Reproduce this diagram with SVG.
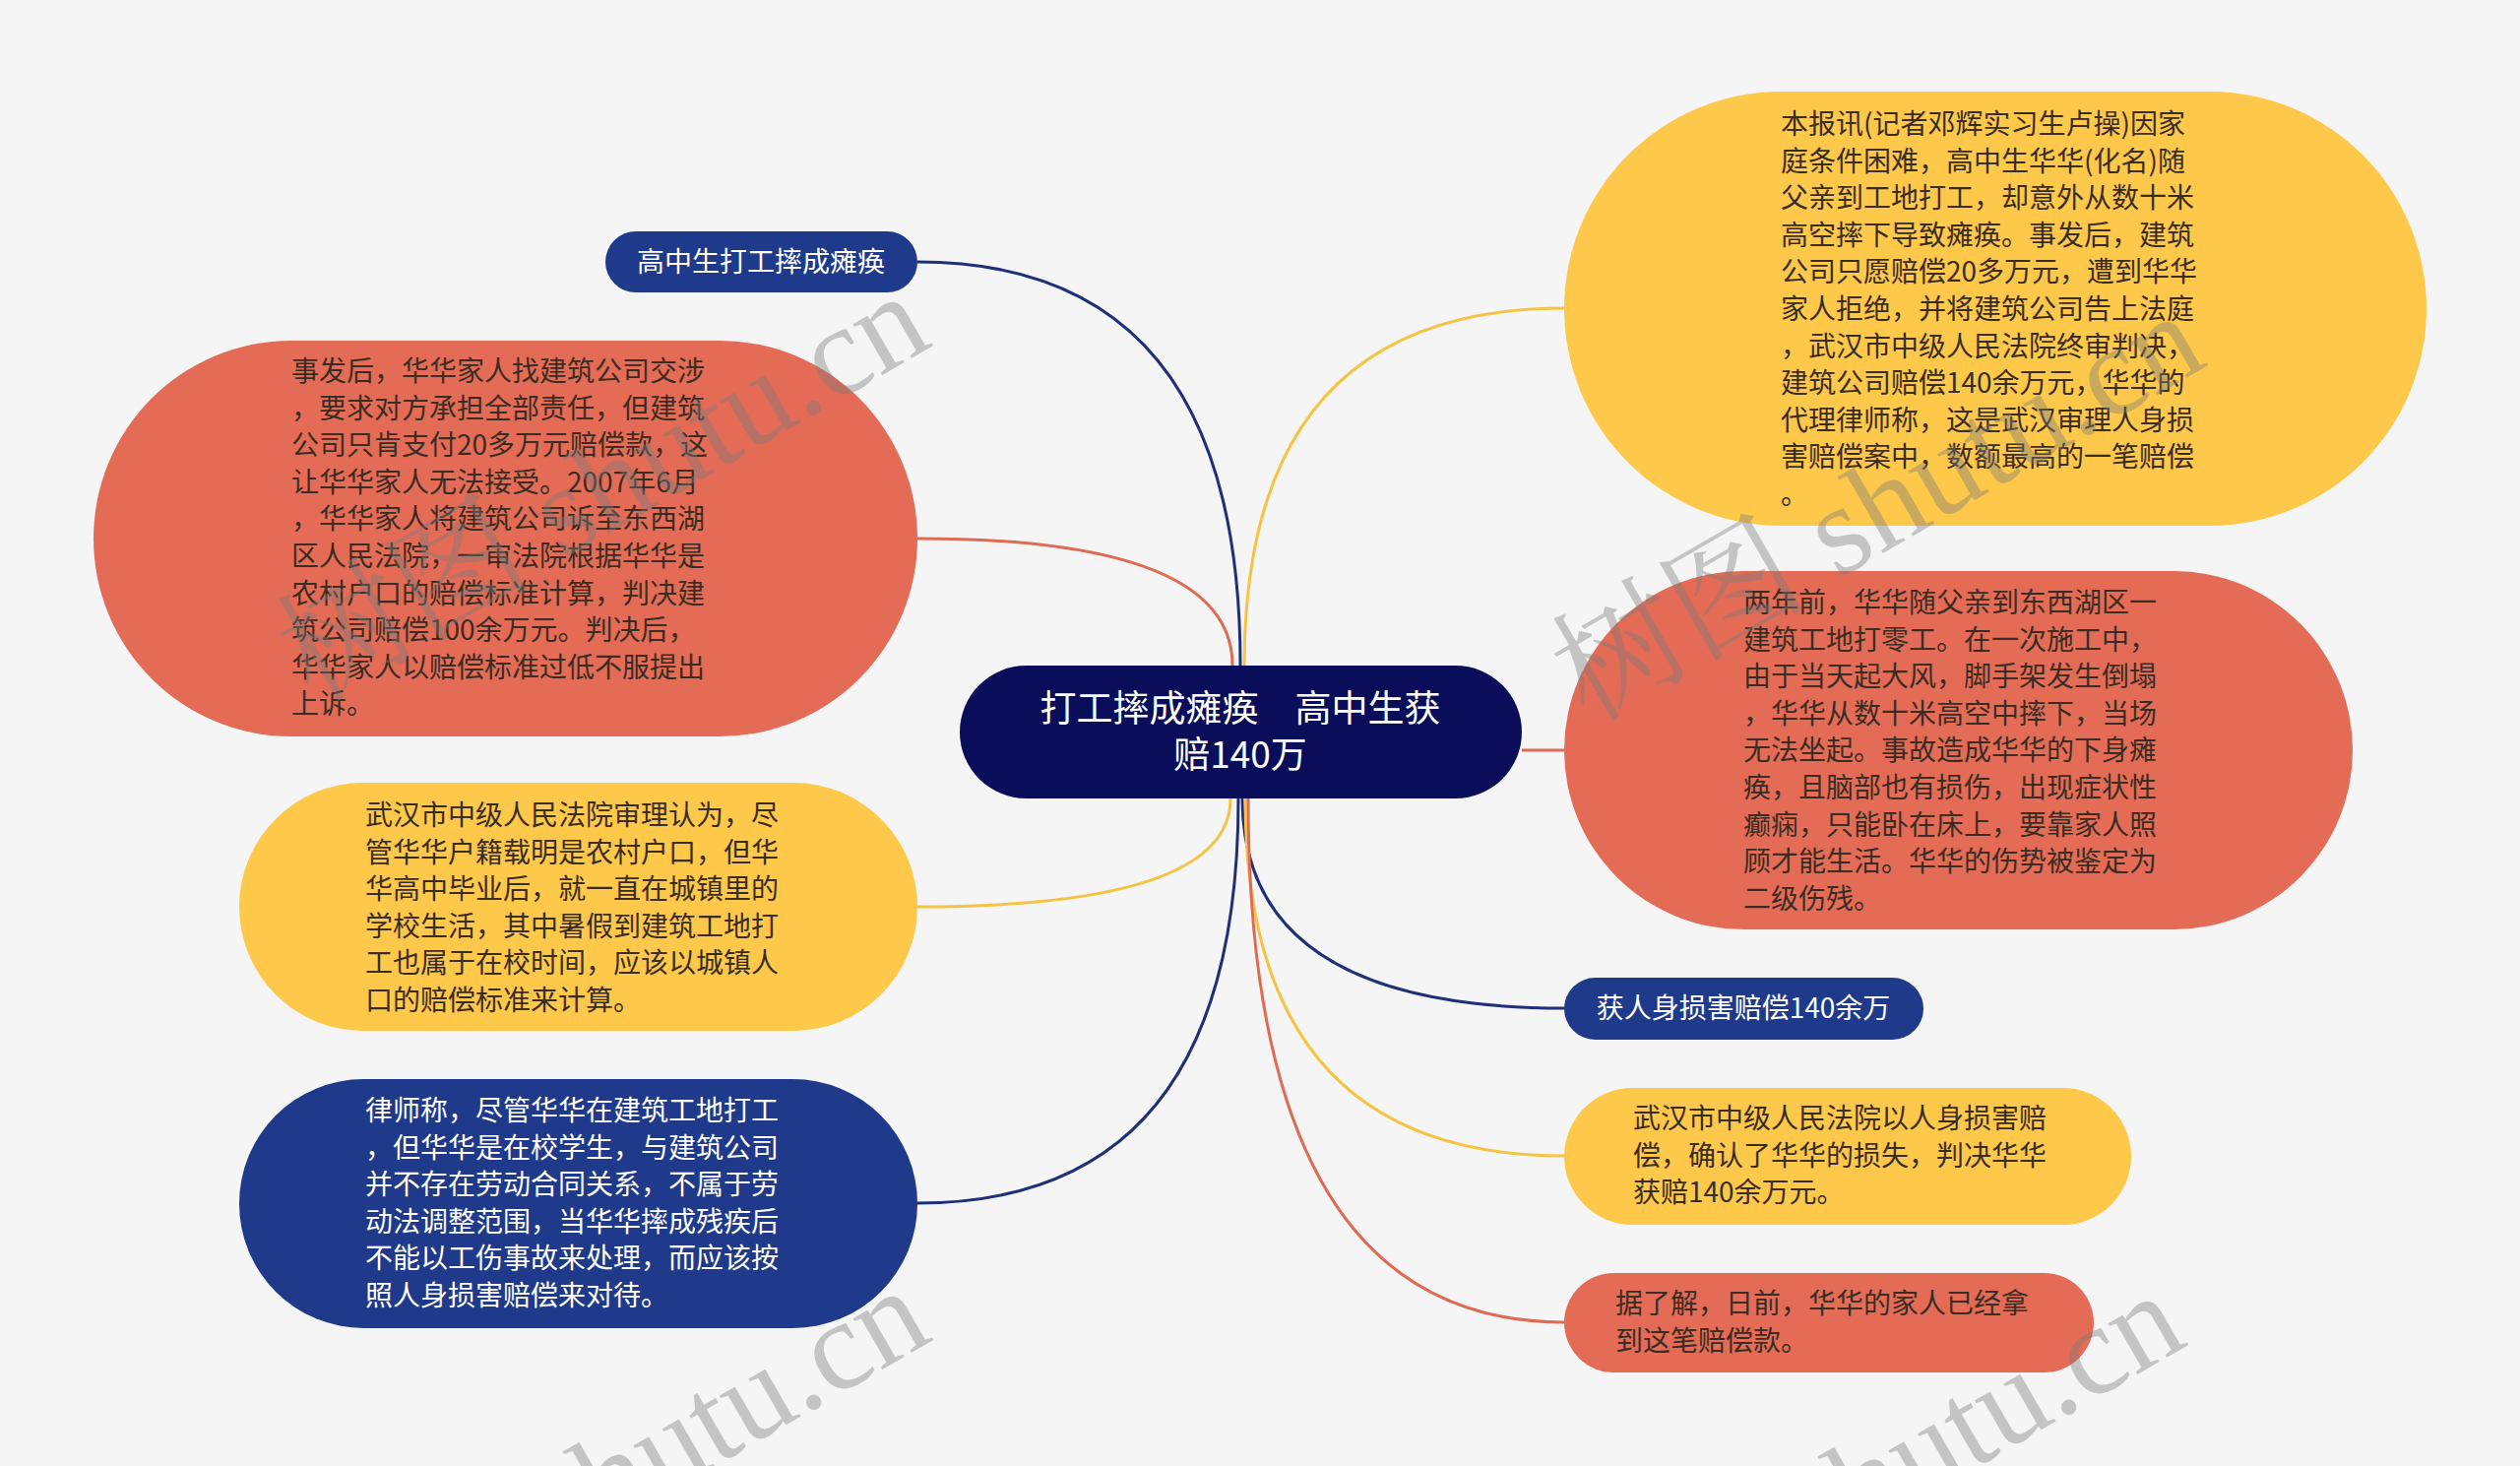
<svg xmlns="http://www.w3.org/2000/svg" width="2560" height="1489" viewBox="0 0 2560 1489">
<style>
.bg{fill:#f5f5f5}
.c-center{fill:#0a0e5a}
.c-blue{fill:#1f3a8a}
.c-yellow{fill:#fec84a}
.c-red{fill:#e46c57}
.t{font-family:"Noto Sans CJK SC","Noto Sans",sans-serif;font-size:28px}
.tw{fill:#ffffff}
.td{fill:#3a2c22}
.tc{font-family:"Noto Sans CJK SC","Noto Sans",sans-serif;font-size:37px;fill:#ffffff}
.ln{fill:none;stroke-width:3}
.l-navy{stroke:#1f2f78}
.l-yellow{stroke:#f5c444}
.l-red{stroke:#de6b55}
.wm{font-family:"Liberation Serif","Noto Serif CJK SC",serif;font-size:130px;fill:#7a7a7a;fill-opacity:0.4}
</style>
<rect class="bg" x="0" y="0" width="2560" height="1489"/>
<g id="connectors">
<path class="ln l-navy" d="M1260 676 Q1260 266 932 266"/>
<path class="ln l-red" d="M1252 676 Q1252 547 932 547"/>
<path class="ln l-yellow" d="M1264 676 Q1264 313 1589 313"/>
<path class="ln l-red" d="M1546 762 L1589 762"/>
<path class="ln l-yellow" d="M1250 811 Q1250 921 932 921"/>
<path class="ln l-navy" d="M1258 811 Q1258 1222 932 1222"/>
<path class="ln l-navy" d="M1262 811 Q1262 1024 1589 1024"/>
<path class="ln l-yellow" d="M1265 811 Q1265 1174 1589 1174"/>
<path class="ln l-red" d="M1268 811 Q1268 1343 1589 1343"/>
</g>
<g id="center">
<rect class="c-center" x="975" y="676" width="571" height="135" rx="67.5"/>
<text class="tc" text-anchor="middle"><tspan x="1260" y="733">打工摔成瘫痪　高中生获</tspan><tspan x="1260" y="780">赔140万</tspan></text>
</g>
<g id="n1">
<rect class="c-blue" x="615" y="235" width="317" height="62" rx="31"/>
<text class="t tw" x="773" y="276" text-anchor="middle">高中生打工摔成瘫痪</text>
</g>
<g id="n2">
<rect class="c-red" x="95" y="346" width="837" height="402" rx="201"/>
<text class="t td">
<tspan x="296" y="387">事发后，华华家人找建筑公司交涉</tspan>
<tspan x="296" y="424.6">，要求对方承担全部责任，但建筑</tspan>
<tspan x="296" y="462.2">公司只肯支付20多万元赔偿款，这</tspan>
<tspan x="296" y="499.8">让华华家人无法接受。2007年6月</tspan>
<tspan x="296" y="537.4">，华华家人将建筑公司诉至东西湖</tspan>
<tspan x="296" y="575">区人民法院，一审法院根据华华是</tspan>
<tspan x="296" y="612.6">农村户口的赔偿标准计算，判决建</tspan>
<tspan x="296" y="650.2">筑公司赔偿100余万元。判决后，</tspan>
<tspan x="296" y="687.8">华华家人以赔偿标准过低不服提出</tspan>
<tspan x="296" y="725.4">上诉。</tspan>
</text>
</g>
<g id="n3">
<rect class="c-yellow" x="243" y="795" width="689" height="252" rx="126"/>
<text class="t td">
<tspan x="371" y="838">武汉市中级人民法院审理认为，尽</tspan>
<tspan x="371" y="875.6">管华华户籍载明是农村户口，但华</tspan>
<tspan x="371" y="913.2">华高中毕业后，就一直在城镇里的</tspan>
<tspan x="371" y="950.8">学校生活，其中暑假到建筑工地打</tspan>
<tspan x="371" y="988.4">工也属于在校时间，应该以城镇人</tspan>
<tspan x="371" y="1026">口的赔偿标准来计算。</tspan>
</text>
</g>
<g id="n4">
<rect class="c-blue" x="243" y="1096" width="689" height="253" rx="126.5"/>
<text class="t tw">
<tspan x="371" y="1138">律师称，尽管华华在建筑工地打工</tspan>
<tspan x="371" y="1175.6">，但华华是在校学生，与建筑公司</tspan>
<tspan x="371" y="1213.2">并不存在劳动合同关系，不属于劳</tspan>
<tspan x="371" y="1250.8">动法调整范围，当华华摔成残疾后</tspan>
<tspan x="371" y="1288.4">不能以工伤事故来处理，而应该按</tspan>
<tspan x="371" y="1326">照人身损害赔偿来对待。</tspan>
</text>
</g>
<g id="n5">
<rect class="c-yellow" x="1589" y="93" width="876" height="441" rx="220.5"/>
<text class="t td">
<tspan x="1809" y="136">本报讯(记者邓辉实习生卢操)因家</tspan>
<tspan x="1809" y="173.6">庭条件困难，高中生华华(化名)随</tspan>
<tspan x="1809" y="211.2">父亲到工地打工，却意外从数十米</tspan>
<tspan x="1809" y="248.8">高空摔下导致瘫痪。事发后，建筑</tspan>
<tspan x="1809" y="286.4">公司只愿赔偿20多万元，遭到华华</tspan>
<tspan x="1809" y="324">家人拒绝，并将建筑公司告上法庭</tspan>
<tspan x="1809" y="361.6">，武汉市中级人民法院终审判决，</tspan>
<tspan x="1809" y="399.2">建筑公司赔偿140余万元，华华的</tspan>
<tspan x="1809" y="436.8">代理律师称，这是武汉审理人身损</tspan>
<tspan x="1809" y="474.4">害赔偿案中，数额最高的一笔赔偿</tspan>
<tspan x="1809" y="512">。</tspan>
</text>
</g>
<g id="n6">
<rect class="c-red" x="1589" y="580" width="801" height="364" rx="182"/>
<text class="t td">
<tspan x="1771" y="622">两年前，华华随父亲到东西湖区一</tspan>
<tspan x="1771" y="659.6">建筑工地打零工。在一次施工中，</tspan>
<tspan x="1771" y="697.2">由于当天起大风，脚手架发生倒塌</tspan>
<tspan x="1771" y="734.8">，华华从数十米高空中摔下，当场</tspan>
<tspan x="1771" y="772.4">无法坐起。事故造成华华的下身瘫</tspan>
<tspan x="1771" y="810">痪，且脑部也有损伤，出现症状性</tspan>
<tspan x="1771" y="847.6">癫痫，只能卧在床上，要靠家人照</tspan>
<tspan x="1771" y="885.2">顾才能生活。华华的伤势被鉴定为</tspan>
<tspan x="1771" y="922.8">二级伤残。</tspan>
</text>
</g>
<g id="n7">
<rect class="c-blue" x="1589" y="993" width="365" height="63" rx="31.5"/>
<text class="t tw" x="1771" y="1034" text-anchor="middle">获人身损害赔偿140余万</text>
</g>
<g id="n8">
<rect class="c-yellow" x="1589" y="1105" width="576" height="139" rx="69.5"/>
<text class="t td">
<tspan x="1659" y="1146">武汉市中级人民法院以人身损害赔</tspan>
<tspan x="1659" y="1184">偿，确认了华华的损失，判决华华</tspan>
<tspan x="1659" y="1221">获赔140余万元。</tspan>
</text>
</g>
<g id="n9">
<rect class="c-red" x="1589" y="1293" width="538" height="101" rx="50.5"/>
<text class="t td">
<tspan x="1641" y="1334">据了解，日前，华华的家人已经拿</tspan>
<tspan x="1641" y="1372">到这笔赔偿款。</tspan>
</text>
</g>
<g id="watermarks">
<text class="wm" text-anchor="end" transform="translate(950 350) rotate(-30)">树图 shutu.cn</text>
<text class="wm" text-anchor="end" transform="translate(2245 370) rotate(-30)">树图 shutu.cn</text>
<text class="wm" text-anchor="end" transform="translate(950 1360) rotate(-30)">树图 shutu.cn</text>
<text class="wm" text-anchor="end" transform="translate(2225 1365) rotate(-30)">树图 shutu.cn</text>
</g>
</svg>
